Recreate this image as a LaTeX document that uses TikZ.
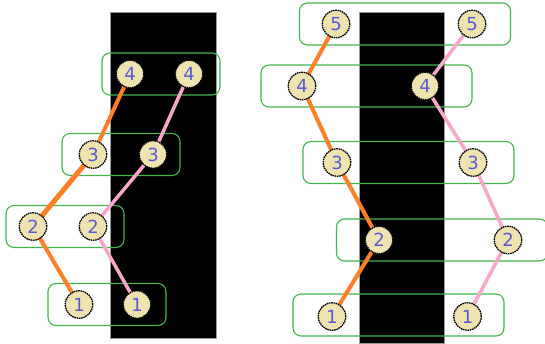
\documentclass[tikz,border=0pt]{standalone}
\usepackage{fontspec}
\newfontfamily\digitfont{DejaVu Sans}
\definecolor{pathorange}{HTML}{FF7F27}
\definecolor{pathpink}{HTML}{FAA6CA}
\definecolor{groupgreen}{HTML}{3FB54C}
\definecolor{tokenfill}{HTML}{EFE4B0}
\definecolor{tokentext}{HTML}{5858D4}
\tikzset{
  token/.style={circle, draw=black, line width=1.3pt, dash pattern=on 1.6pt off 0.7pt,
    fill=tokenfill, inner sep=0pt, minimum size=27.5pt,
    font=\digitfont\fontsize{18}{18}\selectfont, text=tokentext},
  grpsmall/.style={draw=groupgreen, line width=1.1pt, rounded corners=8pt,
    minimum width=118pt, minimum height=42pt, inner sep=0pt},
  grpwide/.style={draw=groupgreen, line width=1.1pt, rounded corners=8pt,
    minimum width=211pt, minimum height=42pt, inner sep=0pt},
  orangelink/.style={draw=pathorange, line width=4pt},
  pinklink/.style={draw=pathpink, line width=3.5pt},
}
\begin{document}
\begin{tikzpicture}[x=1pt, y=-1pt]
\useasboundingbox (0,0) rectangle (545,343);
% dark bands
\fill[black] (110,12) rectangle (216,338);
\fill[black] (359,12) rectangle (444,343);
\draw[black!40, line width=0.5pt] (110,12) rectangle (216,338);
\draw[black!40, line width=0.5pt] (359,12) rectangle (444,343);

% left group frames
\node[grpsmall] (lg4) at (161,74) {};
\node[grpsmall] (lg3) at (121,154.5) {};
\node[grpsmall] (lg2) at (65,226.5) {};
\node[grpsmall] (lg1) at (107,304.5) {};
% right group frames
\node[grpwide] (rg5) at (405,24) {};
\node[grpwide] (rg4) at (366.5,86) {};
\node[grpwide] (rg3) at (408.5,162.5) {};
\node[grpwide] (rg2) at (442,240) {};
\node[grpwide] (rg1) at (398.5,315) {};

% token positions (left figure)
\coordinate (la4) at (130,74);   \coordinate (lb4) at (189,74);
\coordinate (la3) at (93,154.5); \coordinate (lb3) at (153,154.5);
\coordinate (la2) at (33,226.5); \coordinate (lb2) at (93,226.5);
\coordinate (la1) at (79,304.5); \coordinate (lb1) at (137,304.5);
% token positions (right figure)
\coordinate (ra5) at (336,24);    \coordinate (rb5) at (472,24);
\coordinate (ra4) at (302,86);    \coordinate (rb4) at (425,86);
\coordinate (ra3) at (337,162.5); \coordinate (rb3) at (473,162.5);
\coordinate (ra2) at (379,240);   \coordinate (rb2) at (508,240);
\coordinate (ra1) at (332,316.5); \coordinate (rb1) at (467.5,316.5);

% links
\draw[orangelink] (la4) -- (la3);
\draw[orangelink, line width=5pt] (la3) -- (la2);
\draw[orangelink] (la2) -- (la1);
\draw[pinklink] (lb4) -- (lb3) -- (lb2) -- (lb1);
\draw[orangelink] (ra5) -- (ra4) -- (ra3) -- (ra2) -- (ra1);
\draw[pinklink] (rb5) -- (rb4) -- (rb3) -- (rb2) -- (rb1);

% tokens
\foreach \n in {1,...,4} {
  \node[token] (tla\n) at (la\n) {\n};
  \node[token] (tlb\n) at (lb\n) {\n};
}
\foreach \n in {1,...,5} {
  \node[token] (tra\n) at (ra\n) {\n};
  \node[token] (trb\n) at (rb\n) {\n};
}
\end{tikzpicture}
\end{document}
